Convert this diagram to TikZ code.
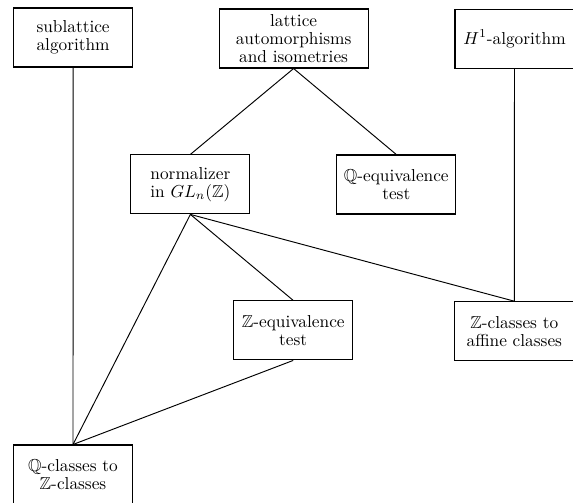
\documentclass[tikz,border=0pt]{standalone}
\usepackage{amssymb}
\begin{document}
\begin{tikzpicture}[x=0.578pt,y=-0.578pt,
  box/.style={draw, line width=0.6pt, minimum width=68.8pt, minimum height=34.1pt,
    inner sep=0pt, align=center, font=\fontsize{10}{10.5}\selectfont},
  link/.style={line width=0.55pt}]
\useasboundingbox (0,0) rectangle (573,503);
\clip (0,0) rectangle (573,503);
\node[box] (sub) at (73.1,37.5) {sublattice\\algorithm};
\node[box, minimum width=86.1pt] (aut) at (293.6,38.5) {lattice\\automorphisms\\and isometries};
\node[box] (hone) at (514.5,39) {$H^1$-algorithm};
\node[box] (norm) at (190.4,184.4) {normalizer\\in $GL_n(\mathbb{Z})$};
\node[box] (qeq) at (396.3,184.5) {$\mathbb{Q}$-equivalence\\test};
\node[box] (zeq) at (293.2,330.4) {$\mathbb{Z}$-equivalence\\test};
\node[box] (zaff) at (514.3,331.2) {$\mathbb{Z}$-classes to\\affine classes};
\node[box] (qz) at (73,474.5) {$\mathbb{Q}$-classes to\\$\mathbb{Z}$-classes};
\draw[link] (sub.south) -- (qz.north);
\draw[link] (aut.south) -- (norm.north);
\draw[link] (aut.south) -- (qeq.north);
\draw[link] (hone.south) -- (zaff.north);
\draw[link] (norm.south) -- (qz.north);
\draw[link] (norm.south) -- (zeq.north);
\draw[link] (norm.south) -- (zaff.north);
\draw[link] (zeq.south) -- (qz.north);
\end{tikzpicture}
\end{document}
